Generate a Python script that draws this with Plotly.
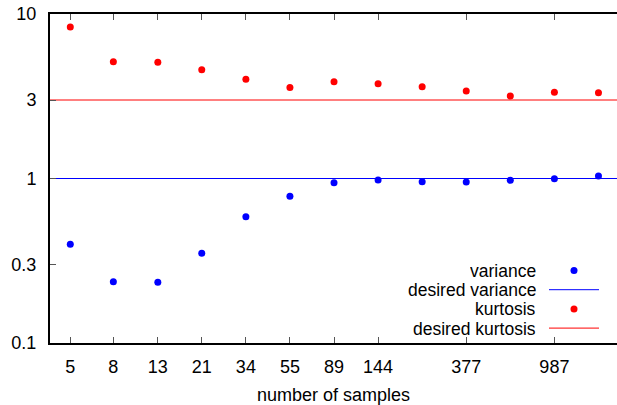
import numpy as np
import plotly.graph_objects as go

samples = [5, 8, 13, 21, 34, 55, 89, 144, 233, 377, 610, 987, 1597]
variance = [0.398, 0.236, 0.234, 0.351, 0.586, 0.780, 0.943, 0.979, 0.956, 0.952, 0.975, 0.997, 1.036]
kurtosis = [8.34, 5.13, 5.09, 4.59, 4.01, 3.58, 3.88, 3.77, 3.61, 3.40, 3.17, 3.34, 3.32]
desired_variance = 1.0
desired_kurtosis = 3.0
x_tick_vals = [5, 8, 13, 21, 34, 55, 89, 144, 377, 987]
y_tick_vals = [0.1, 0.3, 1, 3, 10]
y_tick_text = ["0.1", "0.3", "1", "3", "10"]
legend_labels = ["variance", "desired variance", "kurtosis", "desired kurtosis"]

BLUE = "#0000ff"
RED = "#ff0000"
FONT = "Liberation Sans, Arial, sans-serif"
FS = 18
LFS = 17.5

W, H = 617, 405
ml, mr, mt, mb = 50, 0, 14, 62
pw = W - ml - mr
ph = H - mt - mb

fig = go.Figure()
fig.add_trace(go.Scatter(x=samples, y=variance, mode="markers",
                         marker=dict(color=BLUE, size=7), name="variance", showlegend=False))
fig.add_trace(go.Scatter(x=samples, y=kurtosis, mode="markers",
                         marker=dict(color=RED, size=7), name="kurtosis", showlegend=False))
fig.add_hline(y=desired_variance, line=dict(color=BLUE, width=1), layer="below")
fig.add_hline(y=desired_kurtosis, line=dict(color=RED, width=1), layer="below")

# custom gnuplot-style legend (text right, sample on the right)
def px_x(p):
    return (p - ml) / pw

def px_y(p):
    return (H - mb - p) / ph

rows = [270.5, 289.7, 308.9, 328.1]
kinds = [("dot", BLUE), ("line", BLUE), ("dot", RED), ("line", RED)]
for lab, ry, (kind, col) in zip(legend_labels, rows, kinds):
    fig.add_annotation(text=lab, xref="paper", yref="paper", x=px_x(537), y=px_y(ry),
                       xanchor="right", yanchor="middle", showarrow=False,
                       height=17, borderpad=0, valign="middle",
                       font=dict(family=FONT, size=LFS, color="black"))
    if kind == "line":
        fig.add_shape(type="line", xref="paper", yref="paper",
                      x0=px_x(549), x1=px_x(599), y0=px_y(ry), y1=px_y(ry),
                      line=dict(color=col, width=1))
    else:
        fig.add_shape(type="circle", xref="paper", yref="paper",
                      xsizemode="pixel", ysizemode="pixel",
                      xanchor=px_x(574), yanchor=px_y(ry),
                      x0=-3.5, x1=3.5, y0=-3.5, y1=3.5,
                      fillcolor=col, line=dict(width=0))

fig.update_layout(
    width=W, height=H,
    margin=dict(l=ml, r=mr, t=mt, b=mb),
    plot_bgcolor="white", paper_bgcolor="white",
    font=dict(family=FONT, size=FS, color="black"),
    showlegend=False,
)
fig.update_xaxes(type="log", range=[0.6027, 3.2912],
                 tickvals=x_tick_vals, ticktext=[str(v) for v in x_tick_vals],
                 ticks="inside", ticklen=6, tickwidth=1, tickcolor="#555",
                 showline=True, linecolor="black", linewidth=2, mirror="ticks",
                 showgrid=False, zeroline=False,
                 ticklabelstandoff=6,
                 title=dict(text="number of samples", standoff=14,
                            font=dict(family=FONT, size=FS)))
fig.update_yaxes(type="log", range=[-1, 1],
                 tickvals=y_tick_vals, ticktext=y_tick_text,
                 ticks="inside", ticklen=6, tickwidth=1, tickcolor="#555",
                 showline=True, linecolor="black", linewidth=2,
                 showgrid=False, zeroline=False,
                 ticklabelstandoff=8)

fig.write_html("out.html")
